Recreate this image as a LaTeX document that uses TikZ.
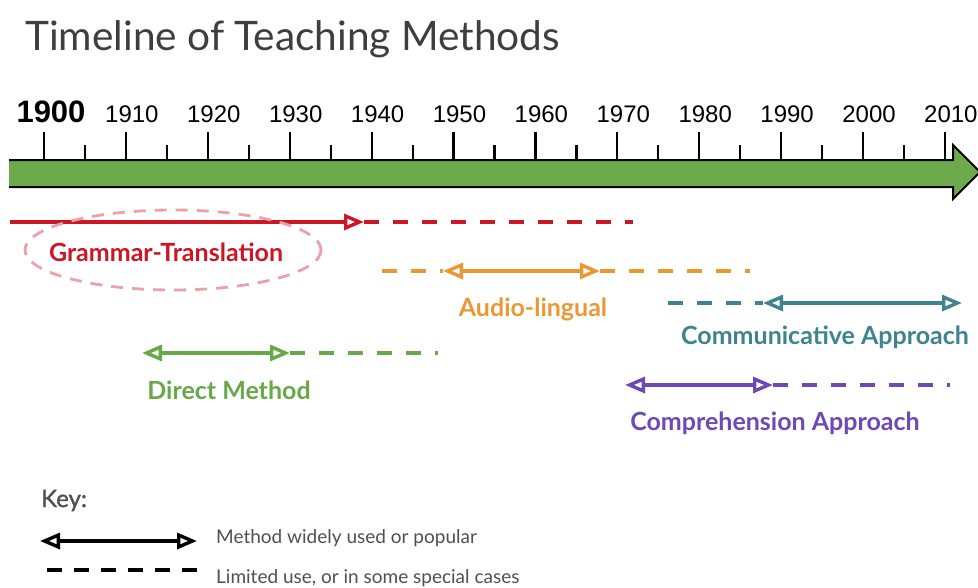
\documentclass[tikz,border=0pt]{standalone}
\usepackage{fontspec}
\setmainfont{Lato}
\newfontfamily\yearfont{Liberation Sans}
\newfontfamily\keyfont[FakeBold=1.2]{Lato}
\usetikzlibrary{arrows.meta}

\definecolor{barGreen}{RGB}{108,170,76}
\definecolor{gtRed}{RGB}{204,22,36}
\definecolor{gtPink}{RGB}{236,160,168}
\definecolor{alOrange}{RGB}{234,152,52}
\definecolor{dmGreen}{RGB}{104,168,72}
\definecolor{caTeal}{RGB}{62,132,142}
\definecolor{cpPurple}{RGB}{112,72,180}
\definecolor{titleGray}{RGB}{62,62,62}
\definecolor{keyGray}{RGB}{80,80,80}

\tikzset{
  head/.tip={Triangle[open,length=20pt,width=16pt]},
  popular/.style={line width=3.4pt,head-head},
  limited/.style={line width=3.4pt,dash pattern=on 15pt off 14pt},
  method/.style={font=\bfseries\fontsize{25}{30}\selectfont},
  year/.style={anchor=base,font=\yearfont\fontsize{24}{28}\selectfont},
  keytext/.style={anchor=base west,inner sep=0pt,text=keyGray,font=\fontsize{19}{22}\selectfont},
}

\begin{document}
\begin{tikzpicture}[x=1pt,y=-1pt]
\useasboundingbox[fill=white] (0,0) rectangle (978,587);

%title
\node[anchor=base west,inner sep=0pt,text=titleGray,font=\fontsize{40.6}{46}\selectfont] (title) at (25,50) {Timeline of Teaching Methods};

%time bar
\fill[barGreen] (9,160) -- (953,160) -- (953,145) -- (980,172) -- (953,199) -- (953,187) -- (9,187) -- cycle;
\draw[line width=2pt,line join=miter] (9,160) -- (953,160) -- (953,145) -- (980,172) -- (953,199) -- (953,187) -- (9,187);

%ticks
\foreach \i in {0,...,11}
  \draw[line width=2.2pt] ({44+\i*81.9},132) -- ({44+\i*81.9},160);
\foreach \i in {0,...,10}
  \draw[line width=2.2pt] ({85+\i*81.9},145) -- ({85+\i*81.9},160);

%years
\node[anchor=base,font=\yearfont\bfseries\fontsize{31}{34}\selectfont] (y1900) at (51,122) {1900};
\foreach \y [count=\i] in {1910,1920,1930,1940,1950,1960,1970,1980,1990,2000,2010}
  \node[year] (y\y) at ({50+\i*81.9},122) {\y};

%grammar-translation
\coordinate (gtA) at (10,222);
\coordinate (gtB) at (364,222);
\coordinate (gtC) at (633,222);
\draw[gtRed,line width=3.4pt,-head] (gtA) -- (gtB);
\draw[gtRed,limited] (gtB) -- (gtC);
\node[method,text=gtRed] (gt) at (166,252) {Grammar-Translation};
\draw[gtPink,line width=2.8pt,dash pattern=on 12pt off 9pt] (173,250) ellipse (148 and 40);

%audio-lingual
\coordinate (alA) at (382,271);
\coordinate (alB) at (443,271);
\coordinate (alC) at (600,271);
\coordinate (alD) at (750,271);
\draw[alOrange,limited] (alA) -- (alB);
\draw[alOrange,popular] (alB) -- (alC);
\draw[alOrange,limited] (alC) -- (alD);
\node[method,text=alOrange] (al) at (533,309) {Audio-lingual};

%direct method
\coordinate (dmA) at (142,353);
\coordinate (dmB) at (290,353);
\coordinate (dmC) at (438,353);
\draw[dmGreen,popular] (dmA) -- (dmB);
\draw[dmGreen,limited] (dmB) -- (dmC);
\node[method,text=dmGreen] (dm) at (229,390) {Direct Method};

%communicative approach
\coordinate (caA) at (668,303);
\coordinate (caB) at (763,303);
\coordinate (caC) at (962,303);
\draw[caTeal,limited] (caA) -- (caB);
\draw[caTeal,popular] (caB) -- (caC);
\node[method,text=caTeal] (ca) at (825,337) {Communicative Approach};

%comprehension approach
\coordinate (cpA) at (625,385);
\coordinate (cpB) at (773,385);
\coordinate (cpC) at (950,385);
\draw[cpPurple,popular] (cpA) -- (cpB);
\draw[cpPurple,limited] (cpB) -- (cpC);
\node[method,text=cpPurple] (cp) at (775,423) {Comprehension Approach};

%key
\node[anchor=base west,inner sep=0pt,text=keyGray,font=\keyfont\fontsize{24}{28}\selectfont] (key) at (41,507) {Key:};
\coordinate (kA) at (40,541);
\coordinate (kB) at (197,541);
\coordinate (kC) at (47,570);
\coordinate (kD) at (198,570);
\draw[popular] (kA) -- (kB);
\draw[line width=4pt,dash pattern=on 15pt off 12pt] (kC) -- (kD);
\node[keytext] (kPop) at (216,543) {Method widely used or popular};
\node[keytext] (kLim) at (216,583) {Limited use, or in some special cases};
\end{tikzpicture}
\end{document}
